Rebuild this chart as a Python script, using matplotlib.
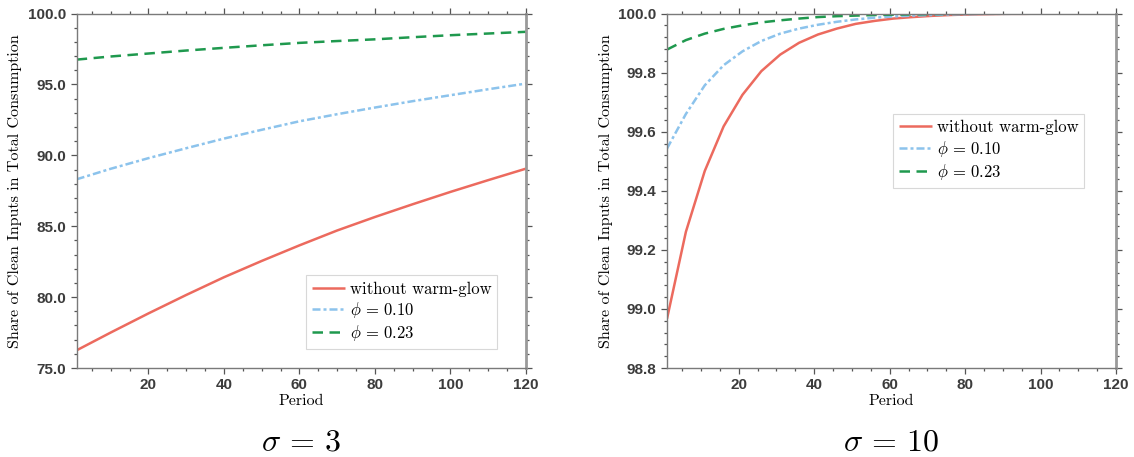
import matplotlib
matplotlib.use("Agg")
import matplotlib.pyplot as plt
from matplotlib.ticker import MultipleLocator, FormatStrFormatter
import numpy as np

plt.rcParams['mathtext.fontset'] = 'cm'

# sigma = 3 panel (period, share in %)
period_s3 = [1, 10, 20, 30, 40, 50, 60, 70, 80, 90, 100, 110, 120]
no_glow_s3 = [76.25, 77.5, 78.85, 80.15, 81.4, 82.55, 83.65, 84.7, 85.65, 86.55, 87.42, 88.25, 89.06]
phi010_s3 = [88.31, 89.05, 89.8, 90.5, 91.18, 91.8, 92.4, 92.9, 93.37, 93.82, 94.24, 94.66, 95.06]
phi023_s3 = [96.75, 96.97, 97.18, 97.39, 97.58, 97.76, 97.93, 98.06, 98.18, 98.33, 98.47, 98.59, 98.71]

# sigma = 10 panel
period_s10 = [1, 6, 11, 16, 21, 26, 31, 36, 41, 46, 51, 56, 61, 66, 71, 76, 81, 86, 91, 96, 101, 106, 111, 116, 120]
no_glow_s10 = [98.967, 99.261, 99.467, 99.618, 99.725, 99.805, 99.861, 99.901, 99.929, 99.949, 99.965, 99.975,
               99.983, 99.988, 99.992, 99.995, 99.997, 99.998, 99.999, 99.999, 100.0, 100.0, 100.0, 100.0, 100.0]
phi010_s10 = [99.543, 99.66, 99.757, 99.825, 99.872, 99.907, 99.932, 99.949, 99.962, 99.972, 99.980, 99.986,
              99.990, 99.993, 99.995, 99.997, 99.998, 99.999, 99.999, 100.0, 100.0, 100.0, 100.0, 100.0, 100.0]
phi023_s10 = [99.878, 99.91, 99.932, 99.948, 99.960, 99.970, 99.977, 99.983, 99.988, 99.991, 99.993, 99.995,
              99.996, 99.997, 99.998, 99.999, 99.999, 100.0, 100.0, 100.0, 100.0, 100.0, 100.0, 100.0, 100.0]

labels = ['without warm-glow', r'$\phi \,=\, 0.10$', r'$\phi \,=\, 0.23$']
colors = ['#ec6a5e', '#8cc3ec', '#1f994e']

tick_font = 'Liberation Sans'
serif_font = 'cmr10'
spine_col = '#7a7a7a'

fig = plt.figure(figsize=(11.34, 4.57), dpi=100)
ax1 = fig.add_axes([0.0676, 0.1947, 0.3962, 0.7757])
ax2 = fig.add_axes([0.5882, 0.1947, 0.3960, 0.7757])

panels = [
    (ax1, period_s3, [no_glow_s3, phi010_s3, phi023_s3], (75, 100), 5, 1, r'$\sigma \,=\, 3$',
     dict(loc='lower right', bbox_to_anchor=(0.955, 0.03))),
    (ax2, period_s10, [no_glow_s10, phi010_s10, phi023_s10], (98.8, 100), 0.2, 0.04, r'$\sigma \,=\, 10$',
     dict(loc='upper right', bbox_to_anchor=(0.948, 0.74))),
]

for ax, x, ys, ylim, ymaj, ymin, title, legkw in panels:
    ax.plot(x, ys[0], color=colors[0], lw=1.8, label=labels[0], solid_capstyle='butt')
    ax.plot(x, ys[1], color=colors[1], lw=1.8, label=labels[1], dashes=(3.2, 1.2, 1.2, 1.2))
    ax.plot(x, ys[2], color=colors[2], lw=1.8, label=labels[2], dashes=(4.2, 2.6))

    ax.set_xlim(1, 120)
    ax.set_ylim(*ylim)
    ax.xaxis.set_major_locator(MultipleLocator(20))
    ax.xaxis.set_minor_locator(MultipleLocator(5))
    ax.yaxis.set_major_locator(MultipleLocator(ymaj))
    ax.yaxis.set_minor_locator(MultipleLocator(ymin))
    ax.yaxis.set_major_formatter(FormatStrFormatter('%.1f'))

    ax.tick_params(which='both', direction='out', top=True, right=True, colors='#555555',
                   labelcolor='#3c3c3c', width=0.9)
    ax.tick_params(which='major', length=4)
    ax.tick_params(which='minor', length=2.5)
    for lab in ax.get_xticklabels() + ax.get_yticklabels():
        lab.set_fontfamily(tick_font)
        lab.set_fontweight('bold')
        lab.set_fontsize(11)

    for side in ['left', 'bottom', 'top']:
        ax.spines[side].set_color(spine_col)
        ax.spines[side].set_linewidth(1.0)
    ax.spines['right'].set_color('#9a9a9a')
    ax.spines['right'].set_linewidth(2.0)

    ax.set_xlabel('Period', fontfamily=serif_font, fontsize=11.5, labelpad=1)
    ax.set_ylabel('Share of Clean Inputs in Total Consumption', fontfamily=serif_font,
                  fontsize=11.5, labelpad=4)

    leg = ax.legend(prop={'family': serif_font, 'size': 12}, fancybox=False,
                    edgecolor='#d8d8d8', framealpha=1, handlelength=2.0,
                    handletextpad=0.3, labelspacing=0.2, borderpad=0.35, **legkw)
    leg.get_frame().set_linewidth(0.8)

    ax.text(0.5, -0.21, title, transform=ax.transAxes, ha='center', va='center', fontsize=23)

fig.savefig('out.png', dpi=100)
